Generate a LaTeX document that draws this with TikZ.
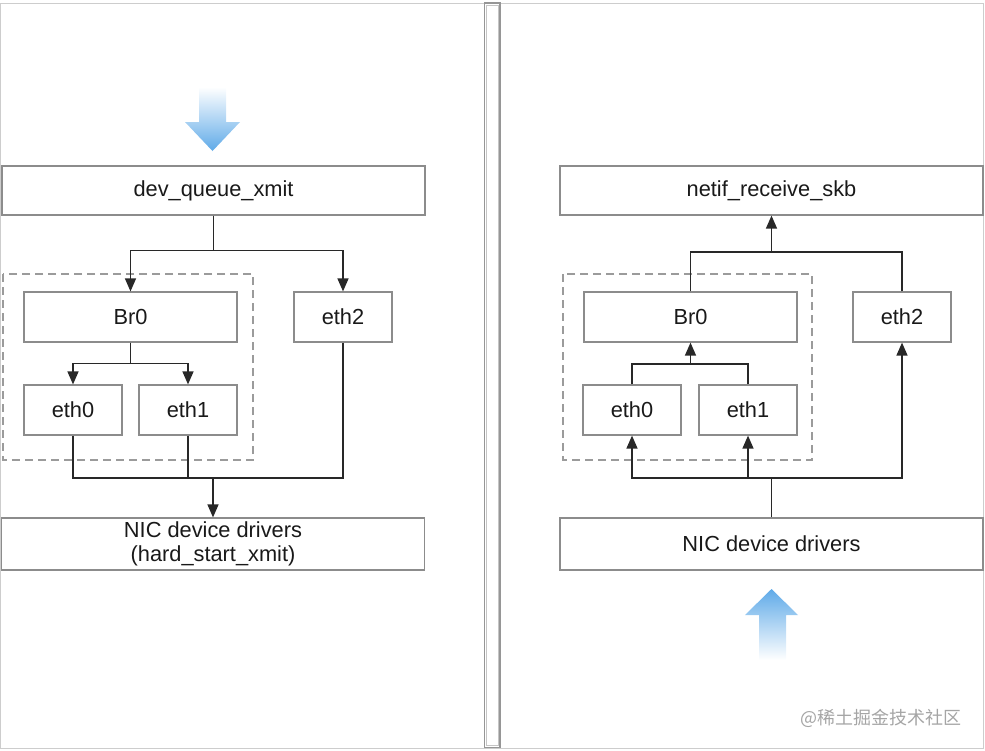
\documentclass[tikz,border=0pt]{standalone}
\usepackage{fontspec}
\setmainfont{Liberation Sans}
\newfontfamily\cjkfont{Noto Sans CJK SC}
\usetikzlibrary{arrows.meta}

\definecolor{boxgray}{RGB}{140,140,140}
\definecolor{linegray}{RGB}{40,40,40}
\definecolor{dashgray}{RGB}{155,155,155}
\definecolor{framegray}{RGB}{205,205,205}
\definecolor{stripgray}{RGB}{150,150,150}
\definecolor{arrowblue}{RGB}{95,170,232}
\definecolor{arrowmid}{RGB}{150,203,242}
\definecolor{markgray}{RGB}{165,165,165}

\begin{document}
\begin{tikzpicture}[x=0.5pt,y=-0.5pt,
    box/.style={draw=boxgray,line width=0.6pt,inner sep=0pt,align=center,
      font=\fontsize{10.9}{12}\selectfont,text=black!90},
    widebox/.style={box,minimum width=211.5pt,minimum height=24.5pt},
    brbox/.style={box,minimum width=106.5pt,minimum height=25pt},
    ethbox/.style={box,minimum width=49pt,minimum height=25pt},
    conn/.style={draw=linegray,line width=0.7pt},
    arr/.style={conn,-{Triangle[length=6.5pt,width=5.5pt]}},
    dashbox/.style={draw=dashgray,line width=0.6pt,dash pattern=on 4pt off 2.5pt}]
  \useasboundingbox (0,0) rectangle (985,750);
  % frame and middle strip
  \draw[framegray,line width=0.5pt] (0.5,3) rectangle (983.5,748);
  \draw[stripgray,line width=0.6pt] (484.5,3) rectangle (500,747.5);
  \draw[stripgray!55,line width=0.5pt] (486.5,5) rectangle (498,745.5);

  % left: transmit path
  \shade[top color=white,middle color=arrowmid,bottom color=arrowblue]
    (199,87) -- (226,87) -- (226,122) -- (240,122) -- (212.5,151)
    -- (185,122) -- (199,122) -- cycle;
  \node[widebox] (dqx) at (213.5,190.5) {dev\_queue\_xmit};
  \draw[dashbox] (3,274) rectangle (253,460);
  \node[brbox] (br0l) at (130.5,317) {Br0};
  \node[ethbox] (eth0l) at (73,410) {eth0};
  \node[ethbox] (eth1l) at (188,410) {eth1};
  \node[ethbox] (eth2l) at (343,317) {eth2};
  \node[widebox,minimum height=26pt] (nicl) at (213,544)
    {NIC device drivers\\(hard\_start\_xmit)};
  \coordinate (mergel) at (213,478);

  \draw[arr] (dqx.south) -- ++(0,35) -| (br0l.north);
  \draw[arr] (dqx.south) -- ++(0,35) -| (eth2l.north);
  \draw[arr] (br0l.south) -- ++(0,21) -| (eth0l.north);
  \draw[arr] (br0l.south) -- ++(0,21) -| (eth1l.north);
  \draw[conn] (eth0l.south) |- (mergel);
  \draw[conn] (eth1l.south) |- (mergel);
  \draw[conn] (eth2l.south) |- (mergel);
  \draw[arr] (mergel) -- (nicl.north);

  % right: receive path
  \node[widebox] (nrs) at (771.5,190.5) {netif\_receive\_skb};
  \draw[dashbox] (563,274) rectangle (812,460);
  \node[brbox] (br0r) at (690.5,317) {Br0};
  \node[ethbox] (eth0r) at (632,410) {eth0};
  \node[ethbox] (eth1r) at (748,410) {eth1};
  \node[ethbox] (eth2r) at (902,317) {eth2};
  \node[widebox,minimum height=26pt] (nicr) at (771.5,544) {NIC device drivers};
  \coordinate (splitr) at (771.5,252);
  \coordinate (joinr) at (690.5,364);
  \coordinate (feedr) at (771.5,478);

  \draw[conn] (br0r.north) |- (splitr);
  \draw[conn] (eth2r.north) |- (splitr);
  \draw[arr] (splitr) -- (nrs.south);
  \draw[conn] (eth0r.north) |- (joinr);
  \draw[conn] (eth1r.north) |- (joinr);
  \draw[arr] (joinr) -- (br0r.south);
  \draw[conn] (nicr.north) -- (feedr);
  \draw[arr] (feedr) -| (eth0r.south);
  \draw[arr] (feedr) -| (eth1r.south);
  \draw[arr] (feedr) -| (eth2r.south);
  \shade[top color=arrowblue,middle color=arrowmid,bottom color=white]
    (771.5,589) -- (798,615) -- (786,615) -- (786,660) -- (759,660)
    -- (759,615) -- (745,615) -- cycle;

  % watermark
  \node[text=markgray,font=\cjkfont\fontsize{9}{10}\selectfont,inner sep=0pt]
    (mark) at (881,718) {@稀土掘金技术社区};
\end{tikzpicture}
\end{document}
